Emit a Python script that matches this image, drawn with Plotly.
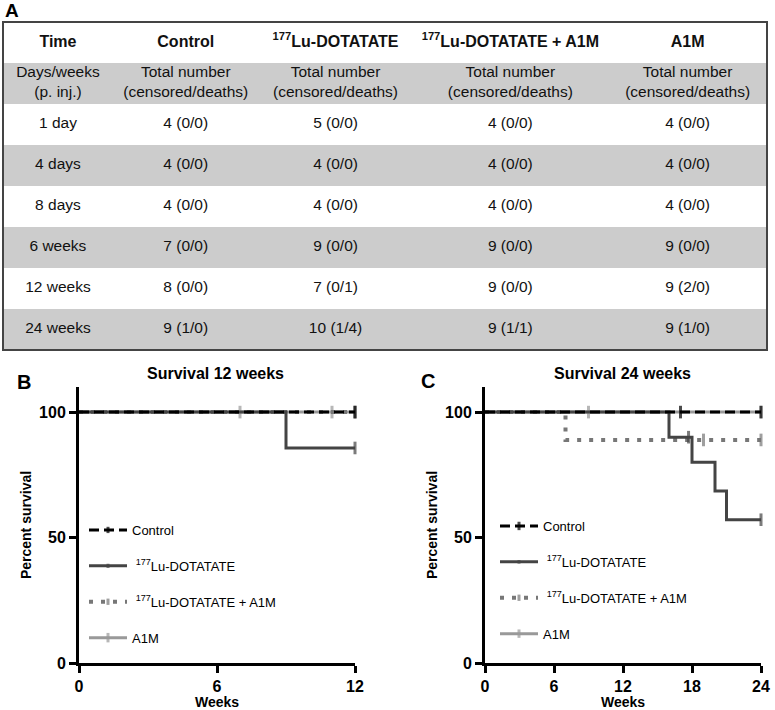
import plotly.graph_objs as go

# table A
col_heads = ["<b>Time</b>", "<b>Control</b>", "<b><sup>177</sup>Lu-DOTATATE</b>",
             "<b><sup>177</sup>Lu-DOTATATE + A1M</b>", "<b>A1M</b>"]
times = ["Days/weeks<br>(p. inj.)", "1 day", "4 days", "8 days", "6 weeks", "12 weeks", "24 weeks"]
unit_txt = "Total number<br>(censored/deaths)"
control_n = [unit_txt, "4 (0/0)", "4 (0/0)", "4 (0/0)", "7 (0/0)", "8 (0/0)", "9 (1/0)"]
lu_n = [unit_txt, "5 (0/0)", "4 (0/0)", "4 (0/0)", "9 (0/0)", "7 (0/1)", "10 (1/4)"]
lu_a1m_n = [unit_txt, "4 (0/0)", "4 (0/0)", "4 (0/0)", "9 (0/0)", "9 (0/0)", "9 (1/1)"]
a1m_n = [unit_txt, "4 (0/0)", "4 (0/0)", "4 (0/0)", "9 (0/0)", "9 (2/0)", "9 (1/0)"]

# survival curves, weeks / percent / censored flag
b_ctrl_t, b_ctrl_s, b_ctrl_c = [0, 12], [100, 100], [0, 1]
b_lu_t, b_lu_s, b_lu_c = [0, 9, 12], [100, 85.7, 85.7], [0, 0, 1]
b_lua_t, b_lua_s, b_lua_c = [0, 12], [100, 100], [0, 1]
b_a1m_t, b_a1m_s, b_a1m_c = [0, 7, 11, 12], [100, 100, 100, 100], [0, 1, 1, 1]

c_ctrl_t, c_ctrl_s, c_ctrl_c = [0, 17, 24], [100, 100, 100], [0, 1, 1]
c_lu_t = [0, 16, 17.7, 18, 20, 21, 24]
c_lu_s = [100, 90, 90, 80, 68.6, 57.1, 57.1]
c_lu_c = [0, 0, 1, 0, 0, 0, 1]
c_lua_t, c_lua_s, c_lua_c = [0, 7, 19, 24], [100, 88.9, 88.9, 88.9], [0, 0, 1, 1]
c_a1m_t, c_a1m_s, c_a1m_c = [0, 9, 24], [100, 100, 100], [0, 1, 1]

FONT = "Liberation Sans, Arial, sans-serif"
W, H = 775, 710
GRAY = "#cccccc"
COL_W = [110, 146, 154, 196, 159]   # table column widths (layout)

def px(x):
    return x / W

def py(y):
    return 1 - y / H

fig = go.Figure()

# ---- table as a hidden subplot: row stripes + cell text
body = [times, control_n, lu_n, lu_a1m_n, a1m_n]
n_rows = len(times) + 1
stripes = [[i % 2] for i in range(n_rows)]
fig.add_trace(go.Heatmap(
    z=stripes, x0=sum(COL_W) / 2, dx=sum(COL_W), y0=0, dy=1,
    colorscale=[[0, "white"], [1, GRAY]], showscale=False, hoverinfo="skip",
    xaxis="x3", yaxis="y3"))

centers = []
acc = 0
for w in COL_W:
    centers.append(acc + w / 2)
    acc += w

tx, ty, tt, ts = [], [], [], []
for j, col in enumerate(body):
    rows = [col_heads[j]] + col
    for i, txt in enumerate(rows):
        tx.append(centers[j])
        ty.append(i)
        tt.append(txt)
        ts.append(16 if i == 0 else 15.5)
fig.add_trace(go.Scatter(
    x=tx, y=ty, text=tt, mode="text", textposition="middle center",
    textfont=dict(family=FONT, size=ts, color="#111111"),
    hoverinfo="skip", showlegend=False, xaxis="x3", yaxis="y3"))

# ---- survival curves
styles = {
    'ctrl': dict(name="Control", color="black", dash="10px,5px", width=3, rank=1),
    'lu': dict(name=" <sup>177</sup>Lu-DOTATATE", color="#444444", dash="solid", width=3, rank=2),
    'lua': dict(name=" <sup>177</sup>Lu-DOTATATE + A1M", color="#777777", dash="4px,8px", width=4, rank=3),
    'a1m': dict(name="A1M", color="#999999", dash="solid", width=3, rank=4),
}

def add_curve(key, t, s, c, xa, ya, leg):
    st = styles[key]
    fig.add_trace(go.Scatter(
        x=t, y=s, mode="lines+markers", line_shape="hv", name=st['name'],
        line=dict(color=st['color'], dash=st['dash'], width=st['width']),
        marker=dict(symbol="line-ns", size=[9 * f for f in c],
                    line=dict(color=st['color'], width=3)),
        cliponaxis=False, xaxis=xa, yaxis=ya, legend=leg,
        legendgroup=key + leg, legendrank=st['rank']))

# gray curves under, control on top
add_curve('a1m', b_a1m_t, b_a1m_s, b_a1m_c, "x", "y", "legend")
add_curve('lua', b_lua_t, b_lua_s, b_lua_c, "x", "y", "legend")
add_curve('lu', b_lu_t, b_lu_s, b_lu_c, "x", "y", "legend")
add_curve('ctrl', b_ctrl_t, b_ctrl_s, b_ctrl_c, "x", "y", "legend")

add_curve('a1m', c_a1m_t, c_a1m_s, c_a1m_c, "x2", "y2", "legend2")
add_curve('lua', c_lua_t, c_lua_s, c_lua_c, "x2", "y2", "legend2")
add_curve('lu', c_lu_t, c_lu_s, c_lu_c, "x2", "y2", "legend2")
add_curve('ctrl', c_ctrl_t, c_ctrl_s, c_ctrl_c, "x2", "y2", "legend2")

ax = dict(showline=True, linewidth=3, linecolor="black", ticks="outside",
          ticklen=7, tickwidth=3, tickcolor="black", showgrid=False, zeroline=False,
          automargin=False,
          tickfont=dict(family=FONT, size=16, color="black", weight="bold"),
          title_font=dict(family=FONT, size=14, color="black", weight="bold"))
hidden = dict(visible=False, showgrid=False, zeroline=False, automargin=False, fixedrange=True)
leg_style = dict(xanchor="left", yanchor="top", bgcolor="rgba(0,0,0,0)",
                 tracegroupgap=16, itemwidth=38,
                 font=dict(family=FONT, size=13, color="black"))

fig.update_layout(
    template="none",
    width=W, height=H, margin=dict(l=0, r=0, t=0, b=0, pad=0),
    paper_bgcolor="white", plot_bgcolor="rgba(0,0,0,0)",
    font=dict(family=FONT, color="black"),
    showlegend=True,
    xaxis=dict(ax, domain=[px(79), px(355)], range=[0, 12], tickvals=[0, 6, 12],
               title=dict(text="Weeks", standoff=2), anchor="y"),
    yaxis=dict(ax, domain=[py(663), py(387)], range=[0, 110], tickvals=[0, 50, 100],
               title=dict(text="Percent survival", standoff=5), anchor="x"),
    xaxis2=dict(ax, domain=[px(485), px(761)], range=[0, 24], tickvals=[0, 6, 12, 18, 24],
                title=dict(text="Weeks", standoff=2), anchor="y2"),
    yaxis2=dict(ax, domain=[py(663), py(387)], range=[0, 110], tickvals=[0, 50, 100],
                title=dict(text="Percent survival", standoff=5), anchor="x2"),
    xaxis3=dict(hidden, domain=[px(3), px(767)], range=[0, sum(COL_W)], anchor="y3"),
    yaxis3=dict(hidden, domain=[py(350), py(22)], range=[n_rows - 0.5, -0.5], anchor="x3"),
    legend=dict(leg_style, x=px(84), y=py(515)),
    legend2=dict(leg_style, x=px(495), y=py(511)),
    shapes=[dict(type="rect", xref="paper", yref="paper", x0=px(3), x1=px(767),
                 y0=py(350), y1=py(22), line=dict(color="#444444", width=2))],
    annotations=[
        dict(text="<b>A</b>", x=px(3), y=py(11), xref="paper", yref="paper",
             xanchor="left", yanchor="middle", showarrow=False, font=dict(size=19)),
        dict(text="<b>B</b>", x=px(15), y=py(382), xref="paper", yref="paper",
             xanchor="left", yanchor="middle", showarrow=False, font=dict(size=20)),
        dict(text="<b>C</b>", x=px(419), y=py(381), xref="paper", yref="paper",
             xanchor="left", yanchor="middle", showarrow=False, font=dict(size=20)),
        dict(text="<b>Survival 12 weeks</b>", x=px(216), y=py(373), xref="paper",
             yref="paper", xanchor="center", yanchor="middle", showarrow=False,
             font=dict(size=16)),
        dict(text="<b>Survival 24 weeks</b>", x=px(622), y=py(373), xref="paper",
             yref="paper", xanchor="center", yanchor="middle", showarrow=False,
             font=dict(size=16)),
    ],
)

fig.write_html("out.html", config={'displayModeBar': False},
               post_script="document.body.style.margin='0px';"
                           "document.body.style.overflow='hidden';")
